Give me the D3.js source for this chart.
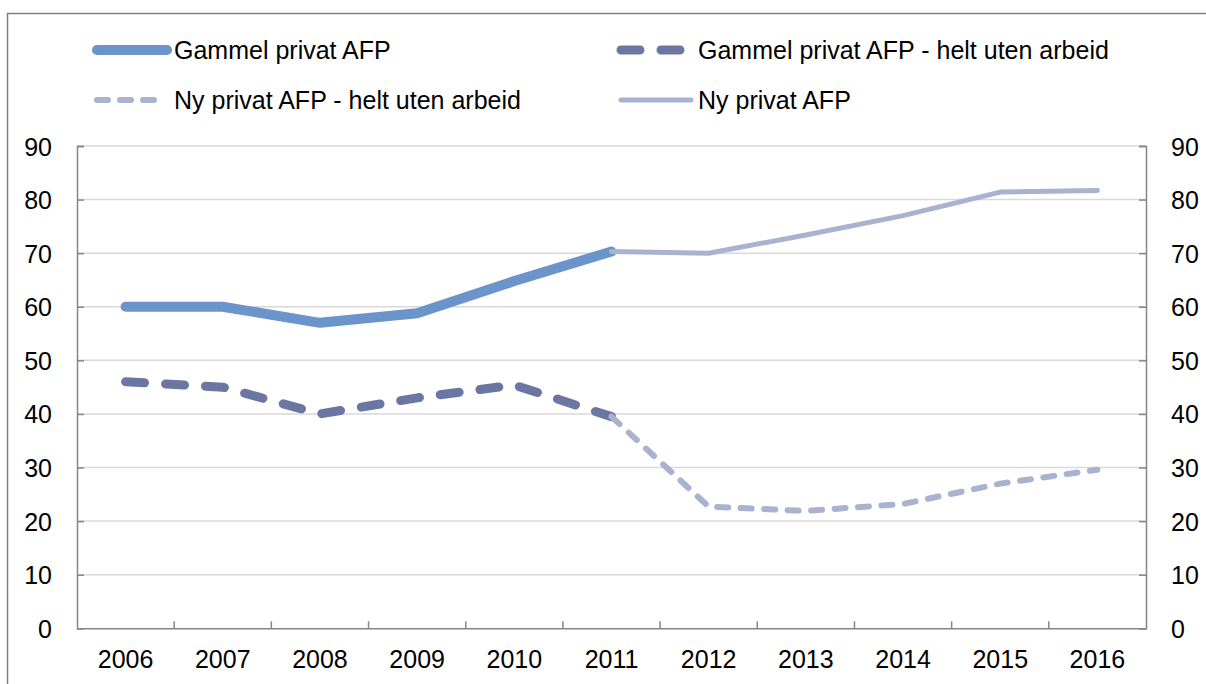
<!DOCTYPE html>
<html>
<head>
<meta charset="utf-8">
<script src="https://cdn.jsdelivr.net/npm/d3@7"></script>
<style>
	body { margin: 0; background: #fff; }
	text { font-family: "Liberation Sans", Arial, sans-serif; fill: #000; }
</style>
</head>
<body>
<svg id="chart" width="1206" height="684"></svg>
<script>

// data
var years = [2006, 2007, 2008, 2009, 2010, 2011, 2012, 2013, 2014, 2015, 2016];
var gammelPrivat      = [60, 60, 57, 58.8, 64.8, 70.3, null, null, null, null, null];
var gammelUtenArbeid  = [46, 45, 40, 43, 45.4, 39.5, null, null, null, null, null];
var nyUtenArbeid      = [null, null, null, null, null, 39.5, 22.7, 21.9, 23.2, 27, 29.6];
var nyPrivat          = [null, null, null, null, null, 70.3, 70, 73.4, 77, 81.4, 81.7];
var yTicks = [0, 10, 20, 30, 40, 50, 60, 70, 80, 90];

var series = [
	{ name: "Gammel privat AFP", values: gammelPrivat, color: "#6b94ca", width: 10, dash: null },
	{ name: "Gammel privat AFP - helt uten arbeid", values: gammelUtenArbeid, color: "#6c76a2", width: 9, dash: "19 21" },
	{ name: "Ny privat AFP - helt uten arbeid", values: nyUtenArbeid, color: "#a9b3cf", width: 6, dash: "11 12.5" },
	{ name: "Ny privat AFP", values: nyPrivat, color: "#a9b3cf", width: 5, dash: null }
];

var svg = d3.select("#chart");

var plotLeft = 77, plotRight = 1146, plotTop = 146, plotBottom = 628.3;
var fontSize = "25px";

var x = d3.scaleBand().domain(years).range([plotLeft, plotRight]).padding(0);
var y = d3.scaleLinear().domain([0, 90]).range([plotBottom, plotTop]);
var cx = function(d) { return x(d) + x.bandwidth() / 2; };

// outer frame
svg.append("rect")
	.attr("x", 7.5).attr("y", 13.5)
	.attr("width", 1400).attr("height", 900)
	.attr("fill", "none")
	.attr("stroke", "#7f7f7f")
	.attr("stroke-width", 1.5);

// gridlines
svg.append("g").selectAll("line")
	.data(yTicks.filter(function(d) { return d > 0; }))
	.enter().append("line")
	.attr("x1", plotLeft).attr("x2", plotRight)
	.attr("y1", function(d) { return y(d); })
	.attr("y2", function(d) { return y(d); })
	.attr("stroke", "#d9d9d9")
	.attr("stroke-width", 1.5);

// left axis
var gLeft = svg.append("g")
	.attr("transform", "translate(" + plotLeft + ",0)")
	.call(d3.axisLeft(y).tickValues(yTicks).tickSize(-7).tickFormat(d3.format("d")));

// right axis
var gRight = svg.append("g")
	.attr("transform", "translate(" + plotRight + ",0)")
	.call(d3.axisRight(y).tickValues(yTicks).tickSize(-7).tickFormat(d3.format("d")));

[gLeft, gRight].forEach(function(g) {
	g.select(".domain").attr("stroke", "#868686").attr("stroke-width", 1.5);
	g.selectAll(".tick line").attr("stroke", "#868686").attr("stroke-width", 1.5);
	g.selectAll(".tick text").style("font-size", fontSize).attr("font-family", null).attr("dy", "0.36em");
});
gLeft.selectAll(".tick text").attr("x", 52 - plotLeft);
gRight.selectAll(".tick text").attr("x", 1171 - plotRight);

// bottom axis: labels in band centres, ticks at band edges
var gBottom = svg.append("g")
	.attr("transform", "translate(0," + plotBottom + ")")
	.call(d3.axisBottom(x).tickSize(0).tickPadding(22));
gBottom.select(".domain").attr("stroke", "#868686").attr("stroke-width", 1.5);
gBottom.selectAll(".tick text").style("font-size", fontSize).attr("font-family", null).attr("dy", "0.71em");

svg.append("g").selectAll("line")
	.data(years.slice(1))
	.enter().append("line")
	.attr("x1", function(d) { return x(d); })
	.attr("x2", function(d) { return x(d); })
	.attr("y1", plotBottom).attr("y2", plotBottom - 7)
	.attr("stroke", "#868686")
	.attr("stroke-width", 1.5);

// lines
var line = d3.line()
	.x(function(d) { return cx(d.year); })
	.y(function(d) { return y(d.v); })
	.curve(d3.curveLinear);

series.forEach(function(s) {
	var pts = years.map(function(yr, i) { return { year: yr, v: s.values[i] }; })
		.filter(function(d) { return d.v != null; });
	svg.append("path")
		.datum(pts)
		.attr("d", line)
		.attr("fill", "none")
		.attr("stroke", s.color)
		.attr("stroke-width", s.width)
		.attr("stroke-linecap", "round")
		.attr("stroke-linejoin", "round")
		.attr("stroke-dasharray", s.dash);
});

// legend
var legendPos = [
	{ x: 97, y: 50 },
	{ x: 621, y: 50 },
	{ x: 97, y: 100 },
	{ x: 621, y: 100 }
];
var legend = svg.append("g");
series.forEach(function(s, i) {
	var p = legendPos[i];
	var len = (i == 2) ? 64 : 70;
	legend.append("line")
		.attr("x1", p.x).attr("x2", p.x + len)
		.attr("y1", p.y).attr("y2", p.y)
		.attr("stroke", s.color)
		.attr("stroke-width", s.width)
		.attr("stroke-linecap", "round")
		.attr("stroke-dasharray", (i == 1) ? "19 21" : (i == 2 ? "11 12" : null));
	legend.append("text")
		.attr("x", p.x + 77)
		.attr("y", p.y)
		.attr("dy", "0.35em")
		.style("font-size", fontSize)
		.text(s.name);
});

</script>
</body>
</html>
